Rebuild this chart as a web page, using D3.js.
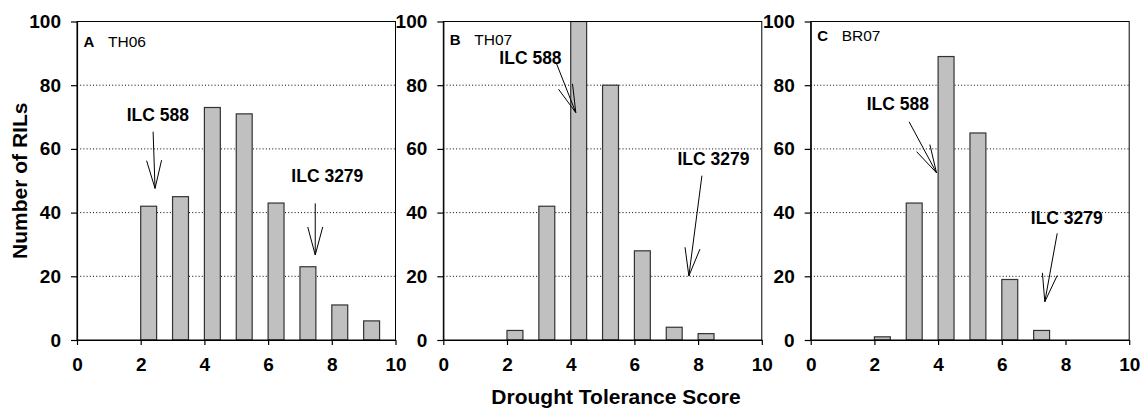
<!DOCTYPE html>
<html>
<head>
<meta charset="utf-8">
<script src="https://cdn.jsdelivr.net/npm/d3@7"></script>
<style>
  html, body { margin: 0; padding: 0; background: #fff; }
  svg { display: block; }
  text { font-family: "Liberation Sans", Arial, sans-serif; }
  .tick text { font-size: 19px; font-weight: bold; fill: #000; }
</style>
</head>
<body>
<svg id="chart" width="1144" height="408"></svg>
<script>
// Frequency distributions of drought tolerance scores in three environments
const scores = [0, 1, 2, 3, 4, 5, 6, 7, 8, 9];
const countsTH06 = [0, 0, 42, 45, 73, 71, 43, 23, 11, 6];
const countsTH07 = [0, 0, 3, 42, 100, 80, 28, 4, 2, 0];
const countsBR07 = [0, 0, 1, 43, 89, 65, 19, 3, 0, 0];

const panelLetters = ["A", "B", "C"];
const panelNames = ["TH06", "TH07", "BR07"];
const xTicks = [0, 2, 4, 6, 8, 10];
const yTicks = [0, 20, 40, 60, 80, 100];
const gridValues = [20, 40, 60, 80];
const parentLabels = ["ILC 588", "ILC 3279"];

// Parent-line callouts per panel, in data units: label anchor, arrow tail, arrow tip
const callouts = [
  [
    { label: 0, tx: 1.56, ty: 68.8, x1: 2.39, y1: 65.4, x2: 2.45, y2: 47.6 },
    { label: 1, tx: 6.73, ty: 49.5, x1: 7.48, y1: 42.9, x2: 7.48, y2: 26.7 }
  ],
  [
    { label: 0, tx: 1.76, ty: 86.7, x1: 3.55, y1: 86.9, x2: 4.16, y2: 71.4 },
    { label: 1, tx: 7.35, ty: 54.9, x1: 8.12, y1: 51.6, x2: 7.71, y2: 20.1 }
  ],
  [
    { label: 0, tx: 1.76, ty: 72.2, x1: 3.09, y1: 68.5, x2: 3.95, y2: 52.5 },
    { label: 1, tx: 6.91, ty: 36.4, x1: 7.74, y1: 33.5, x2: 7.35, y2: 12.0 }
  ]
];

const series = [countsTH06, countsTH07, countsBR07];
const panelLeft = [77, 443.3, 810.7];
const panelWidth = 318.5;
const plotTop = 21.5, plotBottom = 340;
const barWidth = 0.5;
const labelLift = [0, 2.5, 6.5];

const svg = d3.select("#chart");

series.forEach((counts, i) => {
  const x = d3.scaleLinear().domain([0, 10]).range([panelLeft[i], panelLeft[i] + panelWidth]);
  const y = d3.scaleLinear().domain([0, 100]).range([plotBottom, plotTop]);
  const g = svg.append("g");

  const clipId = "clip" + i;
  svg.append("clipPath").attr("id", clipId)
    .append("rect")
    .attr("x", x(0)).attr("y", y(100))
    .attr("width", x(10) - x(0)).attr("height", y(0) - y(100));

  // dotted gridlines
  g.selectAll("line.grid").data(gridValues).join("line")
    .attr("class", "grid")
    .attr("x1", x(0)).attr("x2", x(10))
    .attr("y1", d => y(d)).attr("y2", d => y(d))
    .attr("stroke", "#000").attr("stroke-width", 1)
    .attr("stroke-dasharray", "1,2.2");

  // bars
  g.append("g").attr("clip-path", `url(#${clipId})`)
    .selectAll("rect").data(scores.map((s, k) => ({ s, c: counts[k] })).filter(d => d.c > 0))
    .join("rect")
    .attr("x", d => x(d.s))
    .attr("width", d => x(d.s + barWidth) - x(d.s))
    .attr("y", d => y(d.c))
    .attr("height", d => y(0) - y(d.c))
    .attr("fill", "#c0c0c0")
    .attr("stroke", "#333")
    .attr("stroke-width", 1.2);

  // plot frame
  g.append("rect")
    .attr("x", x(0)).attr("y", y(100))
    .attr("width", x(10) - x(0)).attr("height", y(0) - y(100))
    .attr("fill", "none").attr("stroke", "#000").attr("stroke-width", 1);

  // axes
  const yAxis = g.append("g")
    .attr("transform", `translate(${x(0)},0)`)
    .call(d3.axisLeft(y).tickValues(yTicks).tickSize(6).tickSizeOuter(0).tickPadding(10));
  const xAxis = g.append("g")
    .attr("transform", `translate(0,${y(0)})`)
    .call(d3.axisBottom(x).tickValues(xTicks).tickSize(5).tickSizeOuter(0).tickPadding(13));
  [yAxis, xAxis].forEach(a => {
    a.attr("font-family", null).attr("font-size", null);
    a.selectAll("path, line").attr("stroke", "#000").attr("stroke-width", 1.2);
  });

  // panel letter and environment name
  g.append("text")
    .attr("x", x(0) + 6.5).attr("y", plotTop + 25.5 - labelLift[i])
    .style("font-size", "15px").style("font-weight", "bold")
    .text(panelLetters[i]);
  g.append("text")
    .attr("x", x(0) + 31).attr("y", plotTop + 25.5 - labelLift[i])
    .style("font-size", "15.5px")
    .text(panelNames[i]);

  // callouts with open arrowheads
  callouts[i].forEach(c => {
    g.append("text")
      .attr("x", x(c.tx)).attr("y", y(c.ty))
      .style("font-size", "17.5px").style("font-weight", "bold")
      .text(parentLabels[c.label]);
    const px1 = x(c.x1), py1 = y(c.y1), px2 = x(c.x2), py2 = y(c.y2);
    g.append("line")
      .attr("x1", px1).attr("y1", py1).attr("x2", px2).attr("y2", py2)
      .attr("stroke", "#000").attr("stroke-width", 1);
    const ang = Math.atan2(py1 - py2, px1 - px2);
    const len = 29, spread = 15 * Math.PI / 180;
    [-spread, spread].forEach(s => {
      g.append("line")
        .attr("x1", px2).attr("y1", py2)
        .attr("x2", px2 + len * Math.cos(ang + s))
        .attr("y2", py2 + len * Math.sin(ang + s))
        .attr("stroke", "#000").attr("stroke-width", 1);
    });
  });
});

// shared axis titles
svg.append("text")
  .attr("transform", `translate(26.5,${(plotTop + plotBottom) / 2}) rotate(-90)`)
  .attr("text-anchor", "middle")
  .style("font-size", "21px").style("font-weight", "bold")
  .text("Number of RILs");

svg.append("text")
  .attr("x", 616).attr("y", 403.5)
  .attr("text-anchor", "middle")
  .style("font-size", "21px").style("font-weight", "bold")
  .text("Drought Tolerance Score");
</script>
</body>
</html>
